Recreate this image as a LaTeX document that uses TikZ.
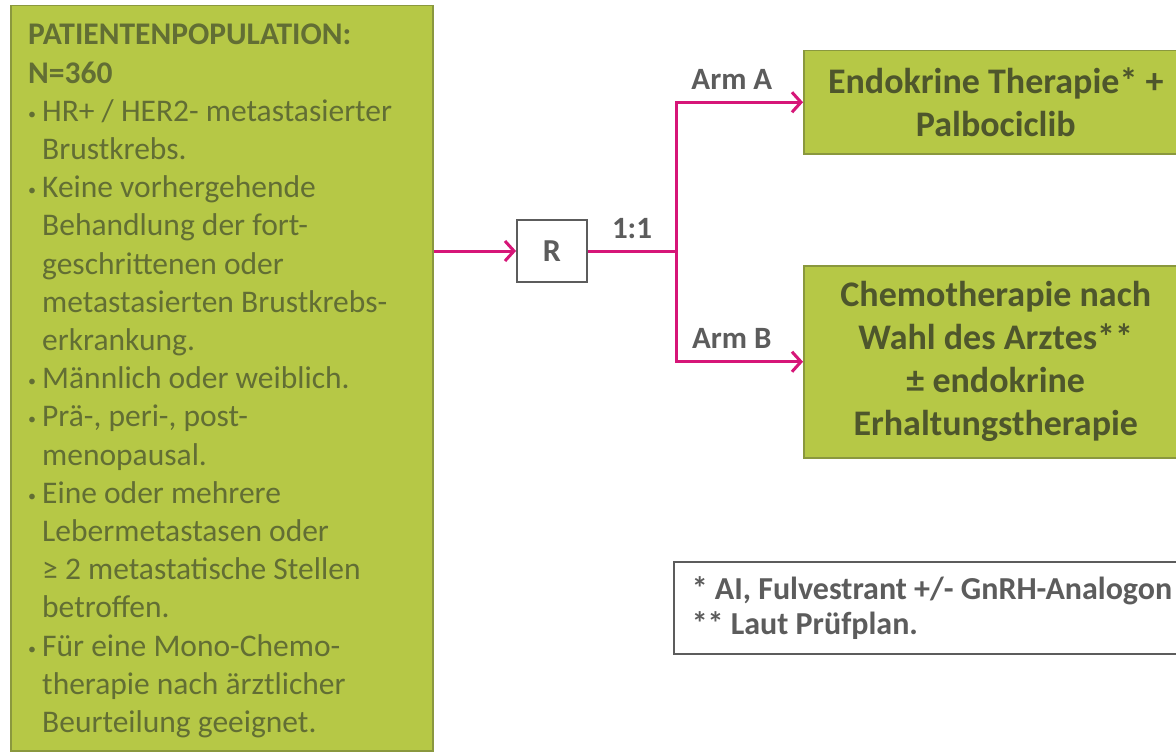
\documentclass[tikz,border=0pt]{standalone}
\usepackage{fontspec}
\setmainfont{Carlito}
\usetikzlibrary{arrows.meta}

\definecolor{popgreen}{RGB}{182,200,70}
\definecolor{popedge}{RGB}{138,152,62}
\definecolor{poptext}{RGB}{98,110,52}
\definecolor{armtext}{RGB}{78,86,44}
\definecolor{randpink}{RGB}{214,22,120}
\definecolor{notegray}{RGB}{92,92,92}

\newcommand{\itm}[1]{\makebox[14pt][l]{\raisebox{2pt}{\fontsize{16}{16}\selectfont•}}#1}
\newcommand{\cnt}[1]{\hspace*{14pt}#1}

\tikzset{
  greenbox/.style={draw=popedge, line width=1.5pt, fill=popgreen},
  armbox/.style={greenbox, align=center, text=armtext, font=\fontsize{36}{43}\selectfont\bfseries},
  randbox/.style={draw=notegray, line width=2pt, fill=white, minimum width=70pt, minimum height=62pt,
    text=notegray, font=\fontsize{32}{36}\selectfont\bfseries},
  notebox/.style={draw=notegray, line width=1.5pt, fill=white, align=flush left, text=notegray,
    font=\fontsize{32}{35}\selectfont\bfseries},
  pinkline/.style={draw=randpink, line width=3pt},
  pinkarrow/.style={pinkline, -{Straight Barb[length=9pt,width=20pt,line width=3pt]}},
  armlabel/.style={text=notegray, font=\fontsize{31}{34}\selectfont\bfseries}
}

\begin{document}
\begin{tikzpicture}[x=1pt,y=-1pt]
\clip (0,0) rectangle (1176,752);
\fill[white] (0,0) rectangle (1176,752);

% patient population
\node[greenbox, anchor=north west, minimum width=422pt, minimum height=745pt] (pop) at (10,5) {};
\node[anchor=north west, inner sep=0pt, align=left, text=poptext,
  font=\fontsize{31.5}{38.2}\selectfont] (poplist) at (28,24) {%
  {\bfseries PATIENTENPOPULATION:}\\
  {\bfseries N=360}\\
  \itm{HR+ / HER2- metastasierter}\\
  \cnt{Brustkrebs.}\\
  \itm{Keine vorhergehende}\\
  \cnt{Behandlung der fort-}\\
  \cnt{geschrittenen oder}\\
  \cnt{metastasierten Brustkrebs-}\\
  \cnt{erkrankung.}\\
  \itm{Männlich oder weiblich.}\\
  \itm{Prä-, peri-, post-}\\
  \cnt{menopausal.}\\
  \itm{Eine oder mehrere}\\
  \cnt{Lebermetastasen oder}\\
  \cnt{≥ 2 metastatische Stellen}\\
  \cnt{betroffen.}\\
  \itm{Für eine Mono-Chemo-}\\
  \cnt{therapie nach ärztlicher}\\
  \cnt{Beurteilung geeignet.}};

% randomisation and arms
\node[randbox] (rand) at (552,251) {R};
\node[armbox, anchor=north west, minimum width=384pt, minimum height=103pt] (armA) at (803,50)
  {Endokrine Therapie* +\\Palbociclib};
\node[armbox, anchor=north west, minimum width=384pt, minimum height=192pt] (armB) at (803,265)
  {Chemotherapie nach\\Wahl des Arztes**\\± endokrine\\Erhaltungstherapie};

% footnotes
\node[notebox, anchor=north west, minimum height=92pt, text width=490pt, inner xsep=18pt] (notes) at (673,561)
  {* AI, Fulvestrant +/- GnRH-Analogon\\{}** Laut Prüfplan.};

% connectors
\draw[pinkarrow] (pop.east |- rand.west) -- (rand.west);
\draw[pinkline] (rand.east) -- ++(88,0) coordinate (split) node[armlabel, midway, above=7pt] {1:1};
\draw[pinkarrow] (split) |- (armA.west) node[armlabel, pos=0.72, above=8pt] {Arm A};
\draw[pinkarrow] (split) |- (armB.west) node[armlabel, pos=0.72, above=8pt] {Arm B};
\end{tikzpicture}
\end{document}
